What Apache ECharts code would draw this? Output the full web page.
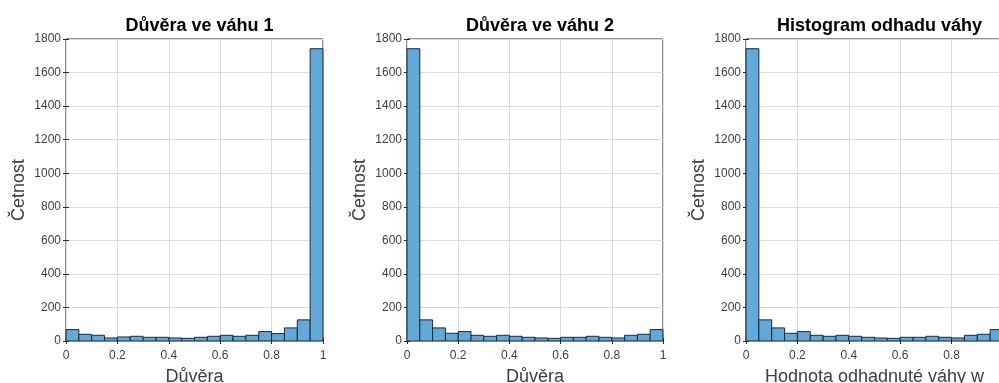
<!DOCTYPE html>
<html>
<head>
<meta charset="utf-8">
<script src="https://cdn.jsdelivr.net/npm/echarts@6/dist/echarts.min.js"></script>
<style>
  html, body { margin: 0; padding: 0; background: #fff; }
  #chart { width: 999px; height: 383px; }
</style>
</head>
<body>
<div id="chart"></div>
<script>
// Histogram counts, 20 equal bins over [0, 1]
const binWidth = 0.05;
const countsW1 = [68, 40, 34, 18, 24, 28, 22, 22, 18, 16, 22, 28, 34, 28, 34, 56, 44, 78, 126, 1742];
const countsW2 = [1742, 126, 78, 46, 56, 34, 28, 34, 28, 22, 18, 16, 22, 22, 28, 22, 18, 34, 40, 68];
const countsEst = [1742, 126, 78, 46, 56, 34, 28, 34, 28, 22, 18, 16, 22, 22, 28, 22, 18, 34, 40, 68];

const titles = ['Důvěra ve váhu 1', 'Důvěra ve váhu 2', 'Histogram odhadu váhy'];
const xNames = ['Důvěra', 'Důvěra', 'Hodnota odhadnuté váhy w'];
const yName = 'Četnost';
const xTicks = [0, 0.2, 0.4, 0.6, 0.8, 1];
const yMax = 1800, yStep = 200;

// plot boxes: left edge and width in pixels
const panels = [
  { left: 66, width: 257, counts: countsW1 },
  { left: 407, width: 256, counts: countsW2 },
  { left: 746, width: 257, counts: countsEst }
];
const TOP = 39, BOTTOM = 42;

const font = 'Liberation Sans, Arial, Helvetica, sans-serif';
const textGray = '#404040';
const axisDark = '#262626';

const grid = [], xAxis = [], yAxis = [], series = [], title = [];

panels.forEach((p, i) => {
  grid.push({
    left: p.left, width: p.width, top: TOP, bottom: BOTTOM,
    outerBoundsMode: 'none', containLabel: false,
    show: true, borderColor: axisDark, borderWidth: 1, backgroundColor: '#fff'
  });
  title.push({
    text: titles[i],
    left: p.left + p.width / 2, top: 12, textAlign: 'center',
    textStyle: { fontFamily: font, fontSize: 18, fontWeight: 'bold', color: '#000' }
  });
  // bottom axis with labels
  xAxis.push({
    gridIndex: i, type: 'value', min: 0, max: 1, interval: 0.2,
    name: xNames[i], nameLocation: 'middle', nameGap: 27,
    nameTextStyle: { fontFamily: font, fontSize: 18, color: textGray },
    axisLine: { show: false },
    axisTick: { show: true, inside: true, length: 3, lineStyle: { color: axisDark } },
    axisLabel: { fontFamily: font, fontSize: 12, color: textGray, margin: 9,
      formatter: v => String(+v.toFixed(1)) },
    splitLine: { show: true, lineStyle: { color: '#dcdcdc', width: 1 } }
  });
  // top axis: ticks only
  xAxis.push({
    gridIndex: i, type: 'value', min: 0, max: 1, interval: 0.2, position: 'top',
    axisLine: { show: false }, axisLabel: { show: false }, splitLine: { show: false },
    axisTick: { show: true, inside: true, length: 3, lineStyle: { color: axisDark } }
  });
  yAxis.push({
    gridIndex: i, type: 'value', min: 0, max: yMax, interval: yStep,
    name: yName, nameLocation: 'middle', nameGap: 38, nameRotate: 90,
    nameTextStyle: { fontFamily: font, fontSize: 18, color: textGray },
    axisLine: { show: false },
    axisTick: { show: true, inside: true, length: 3, lineStyle: { color: axisDark } },
    axisLabel: { fontFamily: font, fontSize: 12, color: textGray, margin: 5,
      formatter: v => String(v) },
    splitLine: { show: true, lineStyle: { color: '#dcdcdc', width: 1 } }
  });
  yAxis.push({
    gridIndex: i, type: 'value', min: 0, max: yMax, interval: yStep, position: 'right',
    axisLine: { show: false }, axisLabel: { show: false }, splitLine: { show: false },
    axisTick: { show: true, inside: true, length: 3, lineStyle: { color: axisDark } }
  });
  series.push({
    type: 'custom',
    xAxisIndex: i * 2, yAxisIndex: i * 2,
    data: p.counts.map((c, k) => [k * binWidth, (k + 1) * binWidth, c]),
    renderItem: (params, api) => {
      const a = api.coord([api.value(0), api.value(2)]);
      const b = api.coord([api.value(1), 0]);
      return {
        type: 'rect',
        shape: { x: a[0], y: a[1], width: b[0] - a[0], height: b[1] - a[1] },
        style: { fill: '#62a8d9', stroke: '#1c2a36', lineWidth: 1 }
      };
    },
    z: 5
  });
});

const chart = echarts.init(document.getElementById('chart'), null, { renderer: 'canvas' });
chart.setOption({ animation: false, backgroundColor: '#fff', title, grid, xAxis, yAxis, series });
</script>
</body>
</html>
